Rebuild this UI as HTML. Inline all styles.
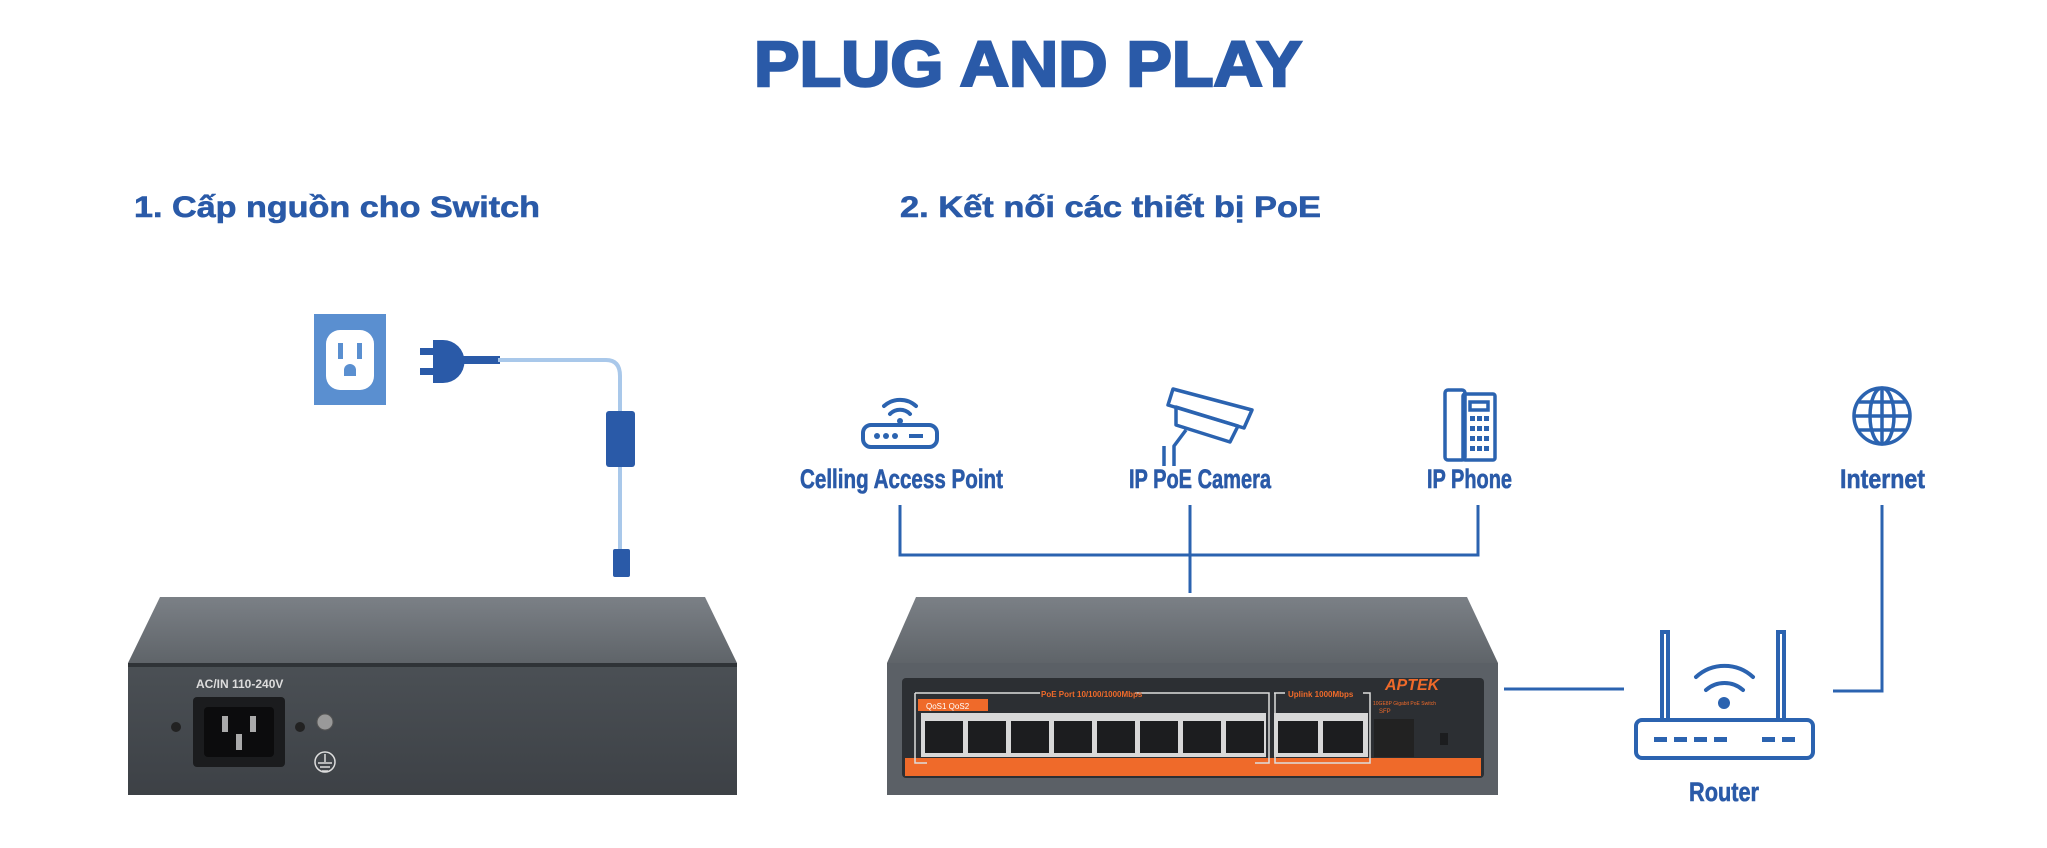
<!DOCTYPE html>
<html><head><meta charset="utf-8"><style>
html,body{margin:0;padding:0;background:#fff;}
svg{display:block}
</style></head><body>
<svg width="2047" height="848" viewBox="0 0 2047 848" xmlns="http://www.w3.org/2000/svg">
<defs>
<linearGradient id="top" x1="0" y1="0" x2="0" y2="1"><stop offset="0" stop-color="#7b8086"/><stop offset="1" stop-color="#5f6469"/></linearGradient>
<linearGradient id="front" x1="0" y1="0" x2="0" y2="1"><stop offset="0" stop-color="#4b5055"/><stop offset="1" stop-color="#3d4146"/></linearGradient>
</defs>
<g font-family="Liberation Sans, Arial, sans-serif" fill="#2a5aa8">
<text x="1028" y="86" font-size="64" font-weight="bold" text-anchor="middle" stroke="#2a5aa8" stroke-width="2.5" textLength="548" lengthAdjust="spacingAndGlyphs">PLUG AND PLAY</text>
<text x="134" y="217" font-size="30" font-weight="bold" stroke="#2a5aa8" stroke-width="0.6" textLength="406" lengthAdjust="spacingAndGlyphs">1. Cấp nguồn cho Switch</text>
<text x="900" y="217" font-size="30" font-weight="bold" stroke="#2a5aa8" stroke-width="0.6" textLength="421" lengthAdjust="spacingAndGlyphs">2. Kết nối các thiết bị PoE</text>
<g font-size="27" font-weight="bold" stroke="#2a5aa8" stroke-width="0.6">
<text x="800" y="488" textLength="203" lengthAdjust="spacingAndGlyphs">Celling Access Point</text>
<text x="1129" y="488" textLength="142" lengthAdjust="spacingAndGlyphs">IP PoE Camera</text>
<text x="1427" y="488" textLength="85" lengthAdjust="spacingAndGlyphs">IP Phone</text>
<text x="1840" y="488" textLength="85" lengthAdjust="spacingAndGlyphs">Internet</text>
<text x="1689" y="801" textLength="70" lengthAdjust="spacingAndGlyphs">Router</text>
</g>
</g>

<rect x="314" y="314" width="72" height="91" fill="#5a8fd0"/>
<rect x="326" y="330" width="48" height="60" rx="14" fill="#fff"/>
<rect x="338" y="343" width="5" height="16" fill="#5a8fd0"/><rect x="357" y="343" width="5" height="16" fill="#5a8fd0"/>
<path d="M344 376 v-6 a6 6 0 0 1 12 0 v6z" fill="#5a8fd0"/>
<rect x="420" y="348" width="14" height="7" fill="#2a5aa8"/><rect x="420" y="368" width="14" height="7" fill="#2a5aa8"/>
<path d="M433 340 h10 a20 20 0 0 1 0 43 h-10z" fill="#2a5aa8"/>
<rect x="460" y="356" width="40" height="8" fill="#2a5aa8"/>
<path d="M498 360 H606 Q620 360 620 376 V575" fill="none" stroke="#a9c8ea" stroke-width="4"/>
<rect x="606" y="411" width="29" height="56" rx="3" fill="#2a5aa8"/>
<rect x="613" y="549" width="17" height="28" rx="2" fill="#2a5aa8"/>

<polygon points="160,597 705,597 737,663 128,663" fill="url(#top)"/>
<rect x="128" y="663" width="609" height="132" fill="url(#front)"/>
<rect x="128" y="663" width="609" height="4" fill="#2f3337"/>
<text x="196" y="688" font-family="Liberation Sans, sans-serif" font-size="12" fill="#ddd" font-weight="bold">AC/IN 110-240V</text>
<rect x="193" y="697" width="92" height="70" rx="4" fill="#1b1c1e"/>
<rect x="204" y="707" width="70" height="50" rx="4" fill="#0c0c0d"/>
<rect x="222" y="716" width="6" height="16" fill="#aaa"/><rect x="250" y="716" width="6" height="16" fill="#aaa"/><rect x="236" y="734" width="6" height="16" fill="#aaa"/>
<circle cx="176" cy="727" r="5" fill="#222"/><circle cx="300" cy="727" r="5" fill="#222"/>
<circle cx="325" cy="722" r="8" fill="#999" stroke="#555"/>
<circle cx="325" cy="762" r="10" fill="none" stroke="#ddd" stroke-width="1.5"/>
<path d="M325 754 v8 M318 763 h14 M320 767 h10 M322 771 h6" stroke="#ddd" stroke-width="1.5"/>

<g stroke="#2b63b0" stroke-width="3" fill="none">
<path d="M900 505 V555 H1478 V505"/>
<path d="M1190 505 V593"/>
<path d="M1882 505 V691 H1833"/>
<path d="M1504 689 H1624"/>
</g>

<polygon points="916,597 1467,597 1498,663 887,663" fill="url(#top)"/>
<rect x="887" y="663" width="611" height="132" fill="#5b6066"/>
<rect x="902" y="678" width="582" height="100" rx="4" fill="#2c2f33"/>
<rect x="905" y="758" width="576" height="18" fill="#ef6a2a"/>
<g fill="none" stroke="#ddd" stroke-width="1.5"><path d="M915 693 V763 H927 M915 693 H1040 M1135 693 H1269 V763 H1255"/><path d="M1274 693 H1285 M1363 693 H1370 V763 H1275 V693"/></g>
<text x="1041" y="697" font-family="Liberation Sans, sans-serif" font-size="8" fill="#ef6a2a" font-weight="bold">PoE Port 10/100/1000Mbps</text>
<text x="1288" y="697" font-family="Liberation Sans, sans-serif" font-size="8" fill="#ef6a2a" font-weight="bold">Uplink 1000Mbps</text>
<rect x="918" y="699" width="70" height="12" fill="#ef6a2a"/>
<text x="926" y="709" font-family="Liberation Sans, sans-serif" font-size="8" fill="#fff">QoS1     QoS2</text>
<text x="1385" y="690" font-family="Liberation Sans, sans-serif" font-size="16" fill="#ef6a2a" font-weight="bold" font-style="italic">APTEK</text>
<text x="1373" y="705" font-family="Liberation Sans, sans-serif" font-size="5" fill="#ef6a2a">10GE8P Gigabit PoE Switch</text>
<g fill="#d8d8d8">
<rect x="921" y="713" width="345" height="44"/>
<rect x="1274" y="713" width="94" height="44"/>
</g>
<g fill="#1c1d1f">
<rect x="925" y="721" width="38" height="32"/><rect x="968" y="721" width="38" height="32"/><rect x="1011" y="721" width="38" height="32"/><rect x="1054" y="721" width="38" height="32"/><rect x="1097" y="721" width="38" height="32"/><rect x="1140" y="721" width="38" height="32"/><rect x="1183" y="721" width="38" height="32"/><rect x="1226" y="721" width="38" height="32"/>
<rect x="1278" y="721" width="40" height="32"/><rect x="1323" y="721" width="40" height="32"/>
<rect x="1374" y="719" width="40" height="38" fill="#222"/>
<rect x="1440" y="733" width="8" height="12"/>
</g>
<text x="1379" y="713" font-family="Liberation Sans, sans-serif" font-size="6" fill="#ef6a2a">SFP</text>

<g stroke="#2b63b0" stroke-width="4" fill="none" stroke-linecap="round">
<rect x="1636" y="720" width="177" height="38" rx="6"/>
<path d="M1662 720 V632 h6 V720"/>
<path d="M1778 720 V632 h6 V720"/>
<path d="M1696 677 a42 42 0 0 1 57 0 M1706 690 a28 28 0 0 1 37 0"/>
</g>
<circle cx="1724" cy="703" r="6" fill="#2b63b0"/>
<g fill="#2b63b0"><rect x="1654" y="737" width="13" height="5"/><rect x="1674" y="737" width="13" height="5"/><rect x="1694" y="737" width="13" height="5"/><rect x="1714" y="737" width="13" height="5"/><rect x="1762" y="737" width="13" height="5"/><rect x="1782" y="737" width="13" height="5"/></g>

<g stroke="#2b63b0" stroke-width="4" fill="none" stroke-linecap="round">
<path d="M884 406 a24 24 0 0 1 32 0 M890 414 a14 14 0 0 1 20 0"/>
<rect x="863" y="425" width="74" height="22" rx="8"/>
</g>
<circle cx="900" cy="421" r="3" fill="#2b63b0"/>
<g fill="#2b63b0"><circle cx="877" cy="436" r="3"/><circle cx="886" cy="436" r="3"/><circle cx="895" cy="436" r="3"/><rect x="909" y="434" width="14" height="4"/></g>
<g stroke="#2b63b0" stroke-width="3.5" fill="none" stroke-linejoin="round">
<polygon points="1173,389 1252,410 1244,428 1168,405"/>
<polygon points="1176,407 1238,426 1230,442 1176,425"/>
<path d="M1186 430 L1174 446 V466 M1164 446 V466"/>
</g>
<g stroke="#2b63b0" stroke-width="3.5" fill="none">
<rect x="1445" y="390" width="20" height="70" rx="3"/>
<rect x="1463" y="394" width="32" height="66" rx="2"/>
<rect x="1470" y="402" width="18" height="8"/>
</g>
<g fill="#2b63b0"><rect x="1470" y="416" width="5" height="5"/><rect x="1477" y="416" width="5" height="5"/><rect x="1484" y="416" width="5" height="5"/><rect x="1470" y="426" width="5" height="5"/><rect x="1477" y="426" width="5" height="5"/><rect x="1484" y="426" width="5" height="5"/><rect x="1470" y="436" width="5" height="5"/><rect x="1477" y="436" width="5" height="5"/><rect x="1484" y="436" width="5" height="5"/><rect x="1470" y="446" width="5" height="5"/><rect x="1477" y="446" width="5" height="5"/><rect x="1484" y="446" width="5" height="5"/></g>
<g stroke="#2b63b0" stroke-width="3.5" fill="none">
<circle cx="1882" cy="416" r="28"/>
<ellipse cx="1882" cy="416" rx="12" ry="28"/>
<path d="M1882 388 V444 M1854 416 H1910 M1859 402 H1905 M1859 430 H1905"/>
</g>
</svg>
</body></html>
